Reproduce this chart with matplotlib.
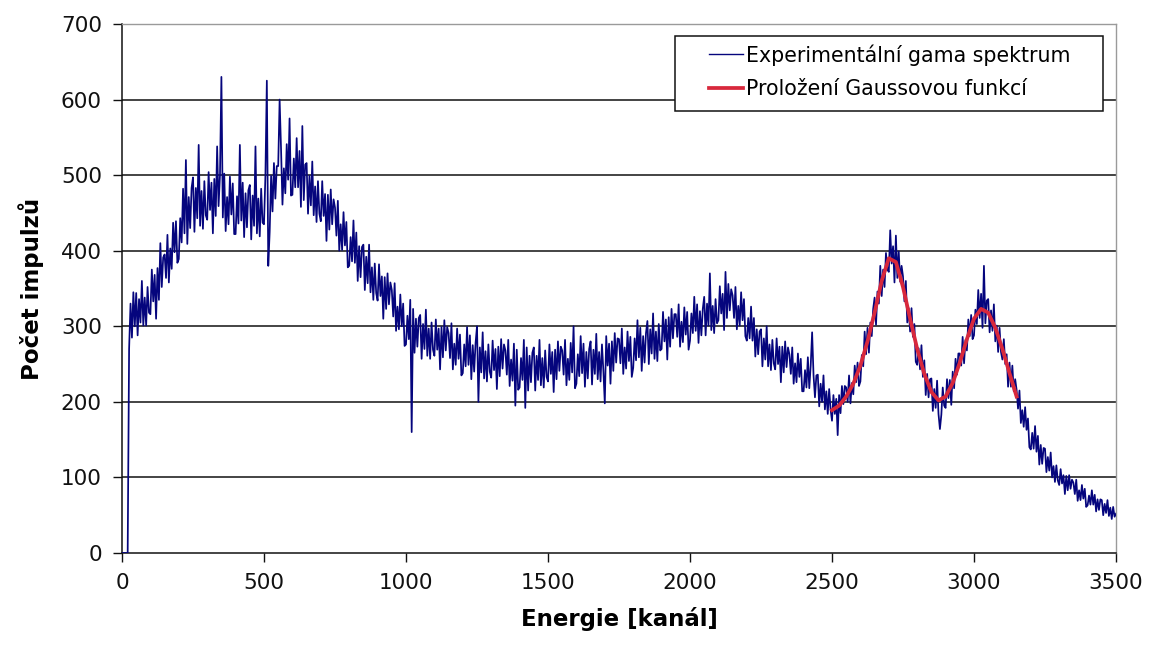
import numpy as np
import matplotlib
matplotlib.use('Agg')
import matplotlib.pyplot as plt
from matplotlib.patches import Rectangle

# Gama spektrum, kanaly 0..3500 po 5 (jeden radek = 50 kanalu)
impulzy = [
    0, 0, 0, 0, 0, 270, 330, 285, 345, 300,
    344, 288, 336, 305, 360, 301, 338, 301, 352, 318,
    316, 375, 333, 368, 310, 377, 335, 410, 352, 391,
    395, 364, 421, 358, 403, 376, 437, 398, 439, 384,
    389, 443, 411, 482, 423, 520, 409, 471, 430, 483,
    497, 425, 483, 443, 540, 433, 479, 429, 492, 447,
    441, 504, 454, 490, 423, 495, 446, 538, 459, 500,
    630, 444, 502, 426, 471, 435, 498, 448, 489, 422,
    422, 472, 436, 540, 440, 490, 418, 476, 431, 480,
    487, 415, 473, 433, 538, 423, 469, 419, 482, 437,
    435, 500, 625, 380, 425, 499, 452, 516, 469, 512,
    512, 600, 535, 461, 509, 476, 541, 494, 575, 473,
    474, 522, 484, 549, 484, 532, 458, 565, 467, 514,
    516, 449, 499, 460, 518, 447, 485, 438, 492, 449,
    439, 492, 446, 475, 413, 474, 428, 481, 435, 468,
    457, 420, 466, 400, 435, 401, 451, 407, 438, 378,
    380, 418, 386, 440, 384, 424, 360, 406, 365, 405,
    408, 348, 392, 357, 408, 345, 378, 335, 383, 344,
    334, 382, 340, 366, 310, 365, 323, 370, 329, 358,
    348, 313, 357, 294, 326, 296, 342, 300, 330, 274,
    276, 314, 283, 335, 160, 323, 265, 310, 273, 311,
    315, 257, 303, 270, 322, 261, 297, 257, 305, 269,
    261, 309, 269, 297, 243, 299, 259, 308, 268, 299,
    291, 258, 304, 243, 277, 249, 297, 257, 289, 235,
    238, 276, 247, 299, 249, 288, 230, 275, 240, 278,
    300, 200, 272, 239, 292, 231, 267, 227, 276, 240,
    232, 281, 242, 270, 217, 273, 234, 283, 244, 276,
    268, 236, 282, 221, 256, 228, 277, 195, 269, 216,
    219, 258, 229, 282, 192, 272, 215, 261, 226, 265,
    272, 215, 261, 229, 282, 222, 258, 219, 268, 233,
    227, 276, 237, 266, 213, 269, 230, 280, 241, 273,
    268, 236, 282, 222, 257, 229, 278, 239, 300, 218,
    224, 263, 234, 287, 238, 277, 220, 266, 231, 270,
    280, 223, 269, 237, 290, 230, 266, 227, 276, 241,
    198, 287, 248, 277, 224, 280, 241, 291, 252, 284,
    283, 251, 297, 237, 272, 244, 293, 254, 286, 233,
    245, 284, 255, 308, 259, 298, 241, 287, 252, 291,
    307, 250, 296, 264, 317, 257, 293, 254, 303, 268,
    270, 319, 280, 309, 256, 312, 273, 323, 284, 316,
    316, 286, 329, 273, 306, 279, 325, 289, 319, 269,
    281, 317, 291, 339, 294, 329, 278, 320, 288, 323,
    339, 288, 330, 301, 370, 295, 327, 291, 336, 304,
    308, 353, 317, 343, 295, 372, 311, 356, 321, 349,
    341, 311, 352, 296, 327, 301, 345, 308, 336, 287,
    281, 311, 284, 326, 281, 311, 260, 296, 263, 293,
    296, 247, 284, 256, 300, 247, 276, 242, 282, 251,
    243, 284, 250, 273, 226, 273, 239, 280, 246, 272,
    263, 237, 272, 224, 251, 226, 264, 233, 257, 214,
    214, 242, 219, 259, 218, 248, 292, 235, 206, 235,
    236, 194, 224, 200, 235, 190, 214, 184, 217, 190,
    175, 209, 184, 204, 156, 209, 185, 221, 197, 221,
    219, 200, 235, 198, 225, 210, 248, 226, 252, 221,
    227, 262, 247, 293, 263, 298, 265, 305, 287, 323,
    338, 302, 346, 330, 380, 340, 375, 352, 397, 375,
    372, 427, 383, 406, 358, 420, 364, 399, 359, 380,
    366, 333, 360, 305, 324, 293, 324, 286, 303, 253,
    249, 271, 243, 275, 233, 255, 209, 237, 206, 230,
    231, 188, 217, 192, 228, 184, 164, 183, 219, 195,
    192, 230, 205, 229, 196, 240, 218, 257, 236, 264,
    264, 248, 286, 251, 282, 268, 309, 287, 315, 283,
    288, 322, 303, 348, 311, 343, 298, 380, 304, 334,
    336, 292, 321, 294, 329, 280, 301, 266, 298, 266,
    256, 283, 250, 263, 220, 252, 220, 248, 214, 230,
    216, 191, 215, 172, 189, 167, 193, 163, 178, 140,
    137, 159, 138, 168, 134, 155, 117, 143, 118, 139,
    138, 107, 127, 109, 133, 100, 115, 94, 116, 96,
    90, 111, 92, 103, 78, 102, 83, 103, 85, 97,
    93, 78, 97, 69, 83, 70, 90, 72, 85, 61,
    63, 76, 64, 83, 64, 77, 55, 71, 57, 71,
    70, 50, 65, 53, 70, 49, 60, 45, 61, 48,
    52,
]
kanaly = np.arange(len(impulzy)) * 5

# Prolozeni Gaussovou funkci (odecteno po 25 kanalech)
fit_kanaly = np.arange(2500, 3151, 25)
fit_impulzy = [189, 195, 207, 224, 248, 280, 318, 360, 390, 385, 352, 310, 270, 237,
               213, 202, 207, 225, 252, 283, 310, 323, 318, 298, 270, 238, 207]

x_ticks = [0, 500, 1000, 1500, 2000, 2500, 3000, 3500]
y_ticks = [0, 100, 200, 300, 400, 500, 600, 700]

fig = plt.figure(figsize=(11.5, 6.5), dpi=100)
ax = fig.add_axes([122/1150, 1 - 553/650, 994/1150, 529/650])

l1, = ax.plot(kanaly, impulzy, color='#05057d', lw=1.25, label='Experimentální gama spektrum', zorder=3)
l2, = ax.plot(fit_kanaly, fit_impulzy, color='#d8283c', lw=2.7, label='Proložení Gaussovou funkcí', zorder=4)

ax.set_xlim(0, 3500); ax.set_ylim(0, 700)
ax.set_xticks(x_ticks); ax.set_yticks(y_ticks)
for y in y_ticks[1:-1]:
    ax.axhline(y, color='#111111', lw=1.1, zorder=1)
for s in ['top', 'right']:
    ax.spines[s].set_color('#9a9a9a'); ax.spines[s].set_linewidth(1)
for s in ['left', 'bottom']:
    ax.spines[s].set_color('#111111'); ax.spines[s].set_linewidth(1.1)
ax.tick_params(direction='out', length=6.5, width=1, colors='#111111', labelsize=15.5, pad=8)
ax.set_xlabel('Energie [kanál]', fontsize=16.5, fontweight='bold', labelpad=10)
ax.set_ylabel('Počet impulzů', fontsize=16.5, fontweight='bold', labelpad=12)

# ramecek legendy (Excel ma velky vodorovny okraj)
ax.add_patch(Rectangle((675/1150, 1 - 111/650), 428/1150, 75/650, transform=fig.transFigure,
                       facecolor='white', edgecolor='#111111', lw=1.1, zorder=5, clip_on=False))
leg = ax.legend(handles=[l1, l2], loc='upper left', bbox_to_anchor=(709/1150, 1 - 44/650),
                bbox_transform=fig.transFigure, frameon=False, fontsize=14.8, borderpad=0,
                borderaxespad=0, handlelength=1.65, handletextpad=0.15, labelspacing=0.68)
leg.set_zorder(6)
leg.get_lines()[0].set_linewidth(1)

fig.savefig('out.png', dpi=100, facecolor='white')
